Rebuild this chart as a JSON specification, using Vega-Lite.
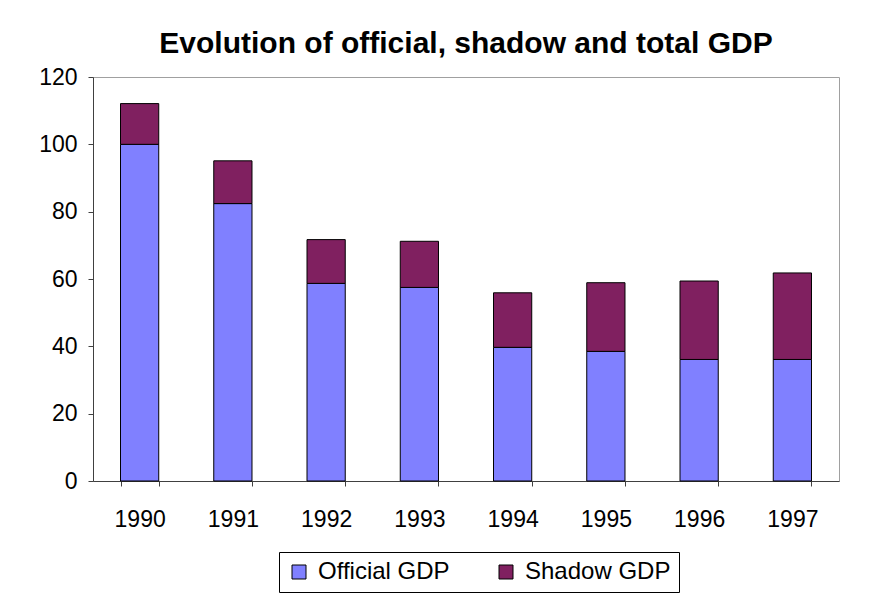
{
  "$schema": "https://vega.github.io/schema/vega-lite/v6.json",
  "autosize": "none",
  "width": 746,
  "height": 404,
  "padding": {"left": 93, "top": 77, "right": 36, "bottom": 113},
  "background": "white",
  "title": {
    "text": "Evolution of official, shadow and total GDP",
    "font": "Liberation Sans",
    "fontSize": 30,
    "fontWeight": "bold",
    "color": "black",
    "anchor": "middle",
    "offset": 7
  },
  "data": {
    "values": [
      {"year": "1990", "series": "Official GDP", "value": 100.0},
      {"year": "1990", "series": "Shadow GDP", "value": 12.1},
      {"year": "1991", "series": "Official GDP", "value": 82.4},
      {"year": "1991", "series": "Shadow GDP", "value": 12.7},
      {"year": "1992", "series": "Official GDP", "value": 58.7},
      {"year": "1992", "series": "Shadow GDP", "value": 13.0},
      {"year": "1993", "series": "Official GDP", "value": 57.5},
      {"year": "1993", "series": "Shadow GDP", "value": 13.7},
      {"year": "1994", "series": "Official GDP", "value": 39.7},
      {"year": "1994", "series": "Shadow GDP", "value": 16.2},
      {"year": "1995", "series": "Official GDP", "value": 38.5},
      {"year": "1995", "series": "Shadow GDP", "value": 20.4},
      {"year": "1996", "series": "Official GDP", "value": 36.1},
      {"year": "1996", "series": "Shadow GDP", "value": 23.3},
      {"year": "1997", "series": "Official GDP", "value": 36.1},
      {"year": "1997", "series": "Shadow GDP", "value": 25.7}
    ]
  },
  "mark": {"type": "bar", "stroke": "black", "strokeWidth": 1},
  "encoding": {
    "x": {
      "field": "year",
      "type": "nominal",
      "scale": {"paddingInner": 0.59, "paddingOuter": 0.295},
      "axis": {
        "title": null,
        "labelAngle": 0,
        "labelFont": "Liberation Sans",
        "labelFontSize": 23,
        "labelColor": "black",
        "labelPadding": 22,
        "tickBand": "extent",
        "tickSize": 5,
        "tickColor": "#404040",
        "domainColor": "#404040",
        "grid": false
      }
    },
    "y": {
      "field": "value",
      "type": "quantitative",
      "stack": "zero",
      "scale": {"domain": [0, 120], "nice": false},
      "axis": {
        "title": null,
        "values": [0, 20, 40, 60, 80, 100, 120],
        "labelFont": "Liberation Sans",
        "labelFontSize": 23,
        "labelColor": "black",
        "labelPadding": 11,
        "tickSize": 5,
        "tickColor": "#404040",
        "domainColor": "#404040",
        "grid": false
      }
    },
    "color": {
      "field": "series",
      "type": "nominal",
      "scale": {"domain": ["Official GDP", "Shadow GDP"], "range": ["#8080FF", "#802060"]},
      "legend": {
        "title": null,
        "orient": "none",
        "direction": "horizontal",
        "legendX": 186,
        "legendY": 475,
        "strokeColor": "black",
        "padding": 8,
        "symbolType": "square",
        "symbolSize": 196,
        "symbolStrokeColor": "black",
        "symbolStrokeWidth": 1,
        "symbolOpacity": 1,
        "labelFont": "Liberation Sans",
        "labelFontSize": 24,
        "labelColor": "black",
        "labelOffset": 7,
        "columnPadding": 44,
        "labelLimit": 300
      }
    },
    "order": {"field": "series", "sort": "ascending"}
  },
  "config": {
    "view": {"stroke": "#A0A0A0", "strokeWidth": 1}
  }
}
